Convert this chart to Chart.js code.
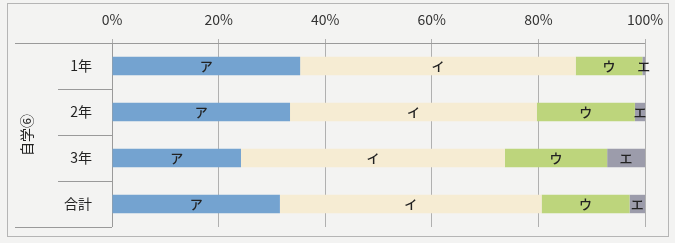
<!DOCTYPE html>
<html><head><meta charset="utf-8">
<script src="https://cdn.jsdelivr.net/npm/chart.js@4"></script>
<style>html,body{margin:0;padding:0;background:#f3f3f2;}#wrap{width:675px;height:243px;}</style>
</head><body><div id="wrap"><canvas id="c" width="675" height="243"></canvas></div>
<script>
const categories = ['1年', '2年', '3年', '合計'];
const groupLabel = '自学⑥';
const seriesNames = ['ア', 'イ', 'ウ', 'エ'];
const valuesA = [35.3, 33.4, 24.2, 31.5];
const valuesI = [51.7, 46.3, 49.5, 49.1];
const valuesU = [12.5, 18.4, 19.2, 16.5];
const valuesE = [0.5, 1.9, 7.1, 2.9];
const xTicks = [0, 20, 40, 60, 80, 100];
const colors = ['#74a3d0', '#f6ecd3', '#bdd57c', '#9c9cab'];

const FONT = '"Noto Sans CJK JP", "Noto Sans", sans-serif';

const decor = {
  id: 'decor',
  beforeDatasetsDraw(chart) {
    const ctx = chart.ctx, a = chart.chartArea, y = chart.scales.y;
    ctx.save();
    ctx.strokeStyle = '#b5b5b5'; ctx.lineWidth = 1;
    ctx.strokeRect(7.5, 3.5, 661, 233);
    ctx.strokeStyle = '#9a9a9a';
    ctx.beginPath();
    ctx.moveTo(15, a.top + 0.5); ctx.lineTo(a.right, a.top + 0.5);
    for (let i = 0; i < categories.length - 1; i++) {
      const yy = Math.round((y.getPixelForValue(i) + y.getPixelForValue(i + 1)) / 2) + 0.5;
      ctx.moveTo(58, yy); ctx.lineTo(a.left, yy);
    }
    ctx.moveTo(15, a.bottom + 0.5); ctx.lineTo(a.left, a.bottom + 0.5);
    ctx.moveTo(a.left + 0.5, a.top); ctx.lineTo(a.left + 0.5, a.bottom);
    ctx.stroke();
    ctx.translate(27, (a.top + a.bottom) / 2);
    ctx.rotate(-Math.PI / 2);
    ctx.fillStyle = '#222';
    ctx.font = '14px ' + FONT;
    ctx.textAlign = 'center'; ctx.textBaseline = 'middle';
    ctx.fillText(groupLabel, 0, 0);
    ctx.restore();
  },
  afterDatasetsDraw(chart) {
    const ctx = chart.ctx;
    ctx.save();
    ctx.fillStyle = '#222';
    ctx.font = '500 13px ' + FONT;
    ctx.textAlign = 'center'; ctx.textBaseline = 'middle';
    chart.data.datasets.forEach((ds, di) => {
      chart.getDatasetMeta(di).data.forEach((el) => {
        ctx.fillText(ds.label, (el.x + el.base) / 2, el.y);
      });
    });
    ctx.restore();
  }
};

new Chart(document.getElementById('c'), {
  type: 'bar',
  data: {
    labels: categories,
    datasets: [valuesA, valuesI, valuesU, valuesE].map((v, i) => ({
      label: seriesNames[i], data: v, backgroundColor: colors[i],
      borderWidth: 0, barPercentage: 0.4, categoryPercentage: 1
    }))
  },
  options: {
    indexAxis: 'y',
    responsive: false,
    animation: false,
    layout: { padding: { left: 0, right: 30, top: 0, bottom: 16 } },
    plugins: { legend: { display: false }, tooltip: { enabled: false } },
    scales: {
      x: {
        position: 'top', stacked: true, min: 0, max: 100,
        afterBuildTicks(s) { s.ticks = xTicks.map(v => ({ value: v })); },
        afterFit(s) { s.height = 43; s.paddingLeft = 0; s.paddingRight = 0; },
        ticks: { callback: v => v + '%', color: '#333', font: { family: FONT, size: 14 }, padding: 11, maxRotation: 0 },
        grid: { color: '#b0b0b0', tickLength: 4, drawTicks: true },
        border: { display: false }
      },
      y: {
        stacked: true,
        afterFit(s) { s.width = 112; s.paddingTop = 0; s.paddingBottom = 0; },
        ticks: { color: '#222', font: { family: FONT, size: 14 }, padding: 20 },
        grid: { display: false, drawTicks: false },
        border: { display: false }
      }
    }
  },
  plugins: [decor]
});
</script></body></html>
